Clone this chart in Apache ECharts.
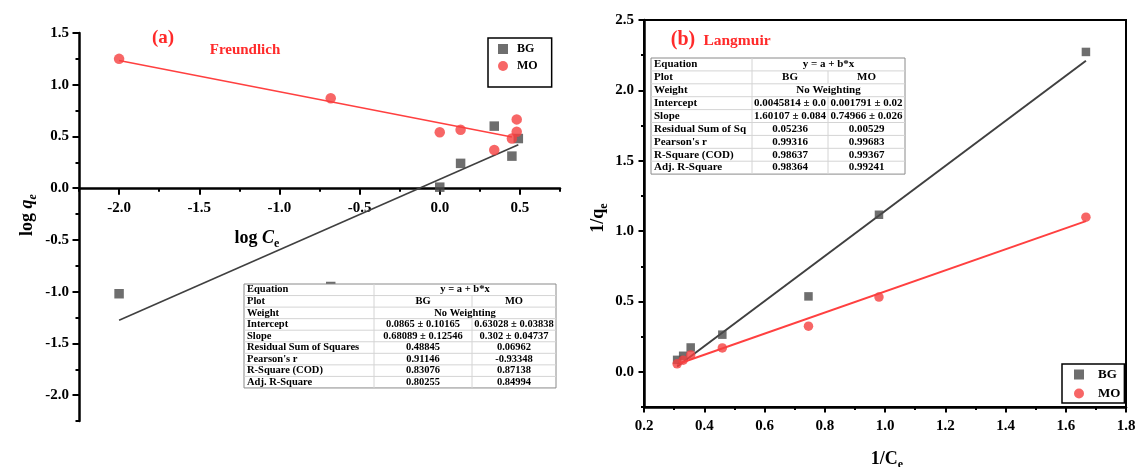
<!DOCTYPE html>
<html><head><meta charset="utf-8">
<script src="https://cdn.jsdelivr.net/npm/echarts@6/dist/echarts.min.js"></script>
<style>html,body{margin:0;padding:0;background:#fff}#c{width:1136px;height:467px}</style>
</head><body><div id="c"></div>
<script>
// ---------- (a) Freundlich data ----------
const freundBG = [[-2.0,-1.02],[-0.68,-0.95],[0.0,0.01],[0.13,0.24],[0.34,0.60],[0.45,0.31],[0.49,0.48]];
const freundMO = [[-2.0,1.25],[-0.68,0.87],[0.0,0.54],[0.13,0.565],[0.34,0.37],[0.45,0.48],[0.48,0.665],[0.48,0.545]];
const freundBGFit = [0.0865, 0.68089];      // intercept, slope
const freundMOFit = [0.63028, -0.302];
const freundBGRange = [-2.0, 0.49];
const freundMORange = [-2.0, 0.45];
const freundXTicks = [-2.0,-1.5,-1.0,-0.5,0.0,0.5];
const freundYTicks = [-2.0,-1.5,-1.0,-0.5,0.0,0.5,1.0,1.5];
const freundTableRows = [
  ['Equation','y = a + b*x',null],
  ['Plot','BG','MO'],
  ['Weight','No Weighting',null],
  ['Intercept','0.0865 ± 0.10165','0.63028 ± 0.03838'],
  ['Slope','0.68089 ± 0.12546','0.302 ± 0.04737'],
  ['Residual Sum of Squares','0.48845','0.06962'],
  ["Pearson's r",'0.91146','-0.93348'],
  ['R-Square (COD)','0.83076','0.87138'],
  ['Adj. R-Square','0.80255','0.84994']
];
// ---------- (b) Langmuir data ----------
const langX  = [0.31, 0.33, 0.355, 0.46, 0.746, 0.98, 1.667];
const langBG = [0.085, 0.114, 0.173, 0.264, 0.536, 1.116, 2.273];
const langMO = [0.057, 0.083, 0.12, 0.17, 0.324, 0.531, 1.099];
const langBGFit = [-0.45814, 1.60107];
const langMOFit = [-0.1791, 0.74966];
const langRange = [0.31, 1.667];
const langYTicks = [0.0,0.5,1.0,1.5,2.0,2.5];
const langTableRows = [
  ['Equation','y = a + b*x',null],
  ['Plot','BG','MO'],
  ['Weight','No Weighting',null],
  ['Intercept','0.0045814 ± 0.0','0.001791 ± 0.02'],
  ['Slope','1.60107 ± 0.084','0.74966 ± 0.026'],
  ['Residual Sum of Sq','0.05236','0.00529'],
  ["Pearson's r",'0.99316','0.99683'],
  ['R-Square (COD)','0.98637','0.99367'],
  ['Adj. R-Square','0.98364','0.99241']
];

const SERIF = '"Liberation Serif","Times New Roman",serif';
const RED = '#ff2a2a', PT_RED = '#f54040', GRAY = '#4a4a4a';
const half = v => Math.abs(v*2 - Math.round(v*2)) < 1e-6;
const fitLine = (p, r) => r.map(x => [x, p[0] + p[1]*x]);
const labelStyle = {color:'#000', fontFamily:SERIF, fontWeight:'bold', fontSize:15};
const lineStyleAxis = {color:'#000', width:2.5};

// left panel geometry: x axis sits at y = 0
const LEFT_H = 388, LEFT_YMIN = -2.25, LEFT_YMAX = 1.5;
const zeroOffset = -(0 - LEFT_YMIN) / (LEFT_YMAX - LEFT_YMIN) * LEFT_H;

function majorAxis(gridIndex, min, max, position, values, len, offset) {
  return {type:'value', gridIndex, min, max, position, offset: offset || 0,
    axisLine:{show:false, onZero:false}, axisLabel:{show:false}, splitLine:{show:false},
    axisTick:{show:true, customValues:values, length:len, lineStyle:{color:'#000', width:2}}};
}

function tableEls(x0, y0, colW, rowH, rows, fs) {
  const els = [];
  const W = colW[0]+colW[1]+colW[2], H = rowH*rows.length;
  const font = `bold ${fs}px ${SERIF}`;
  els.push({type:'rect', z:100, shape:{x:x0,y:y0,width:W,height:H}, style:{fill:'#fff', stroke:'#8a8a8a', lineWidth:1}});
  for (let i=1;i<rows.length;i++) {
    els.push({type:'line', z:101, shape:{x1:x0,y1:y0+i*rowH,x2:x0+W,y2:y0+i*rowH}, style:{stroke:'#d4d4d4', lineWidth:1}});
  }
  els.push({type:'line', z:101, shape:{x1:x0+colW[0],y1:y0,x2:x0+colW[0],y2:y0+H}, style:{stroke:'#d4d4d4', lineWidth:1}});
  rows.forEach((r,i) => {
    const yc = y0 + i*rowH + rowH/2;
    const yt = y0 + i*rowH;
    els.push({type:'text', z:102, x:x0+3, y:yc, style:{text:r[0], font, fill:'#000', align:'left', verticalAlign:'middle'}});
    if (r[2] === null) {
      els.push({type:'text', z:102, x:x0+colW[0]+(colW[1]+colW[2])/2, y:yc, style:{text:r[1], font, fill:'#000', align:'center', verticalAlign:'middle'}});
    } else {
      const xs = x0+colW[0]+colW[1];
      els.push({type:'line', z:101, shape:{x1:xs,y1:yt,x2:xs,y2:yt+rowH}, style:{stroke:'#d4d4d4', lineWidth:1}});
      els.push({type:'text', z:102, x:x0+colW[0]+colW[1]/2, y:yc, style:{text:r[1], font, fill:'#000', align:'center', verticalAlign:'middle'}});
      els.push({type:'text', z:102, x:xs+colW[2]/2, y:yc, style:{text:r[2], font, fill:'#000', align:'center', verticalAlign:'middle'}});
    }
  });
  return els;
}

const nameRich = {
  n:{fontSize:18, fontWeight:'bold', fontFamily:SERIF, fill:'#000', lineHeight:24},
  i:{fontSize:18, fontWeight:'bold', fontStyle:'italic', fontFamily:SERIF, fill:'#000', lineHeight:24},
  s:{fontSize:12, fontWeight:'bold', fontFamily:SERIF, fill:'#000', lineHeight:12, verticalAlign:'bottom'},
  si:{fontSize:12, fontWeight:'bold', fontStyle:'italic', fontFamily:SERIF, fill:'#000', lineHeight:12, verticalAlign:'bottom'}
};

const graphics = [
  {type:'text', z:110, x:163, y:38, style:{text:'(a)', font:`bold 19px ${SERIF}`, fill:RED, align:'center', verticalAlign:'middle'}},
  {type:'text', z:110, x:245, y:50, style:{text:'Freundlich', font:`bold 15px ${SERIF}`, fill:RED, align:'center', verticalAlign:'middle'}},
  {type:'text', z:110, x:683, y:40, style:{text:'(b)', font:`bold 20px ${SERIF}`, fill:RED, align:'center', verticalAlign:'middle'}},
  {type:'text', z:110, x:737, y:41, style:{text:'Langmuir', font:`bold 15.5px ${SERIF}`, fill:RED, align:'center', verticalAlign:'middle'}},
  {type:'text', z:110, x:257, y:238, style:{text:'{n|log }{i|C}{s|e}', rich:nameRich, align:'center', verticalAlign:'middle'}},
  {type:'text', z:110, x:27, y:215, rotation:Math.PI/2, style:{text:'{n|log }{i|q}{si|e}', rich:nameRich, align:'center', verticalAlign:'middle'}},
  {type:'text', z:110, x:887, y:459, style:{text:'{n|1/C}{s|e}', rich:nameRich, align:'center', verticalAlign:'middle'}},
  {type:'text', z:110, x:598, y:218, rotation:Math.PI/2, style:{text:'{n|1/q}{s|e}', rich:nameRich, align:'center', verticalAlign:'middle'}}
].concat(tableEls(244, 284, [130, 98, 84], 11.55, freundTableRows, 10.5))
 .concat(tableEls(651, 58, [101, 76, 77], 12.9, langTableRows, 11));

const legendBase = {orient:'vertical', itemWidth:10, itemHeight:10, borderColor:'#000', borderWidth:1.5, borderRadius:0,
  textStyle:{color:'#000', fontFamily:SERIF, fontWeight:'bold', fontSize:12, padding:[0,0,0,4]},
  data:[{name:'BG', icon:'rect'},{name:'MO', icon:'circle'}], selectedMode:false};

const option = {
  backgroundColor:'#fff',
  animation:false,
  grid:[
    {left:79, top:33, width:481, height:LEFT_H, containLabel:false, outerBoundsMode:'none'},
    {left:644, top:20, width:482, height:387, containLabel:false, outerBoundsMode:'none', show:true, borderColor:'#000', borderWidth:2, backgroundColor:'transparent'}
  ],
  xAxis:[
    {type:'value', gridIndex:0, min:-2.25, max:0.75, interval:0.25, position:'bottom', offset:zeroOffset,
      axisLine:{show:true, onZero:false, lineStyle:lineStyleAxis},
      axisTick:{show:true, length:3.5, lineStyle:{color:'#000', width:2}},
      axisLabel:Object.assign({margin:12, formatter:v => half(v) && v>=-2 && v<=0.5 ? v.toFixed(1) : ''}, labelStyle),
      splitLine:{show:false}},
    majorAxis(0, -2.25, 0.75, 'bottom', freundXTicks, 6.5, zeroOffset),
    {type:'value', gridIndex:1, min:0.2, max:1.8, interval:0.2,
      axisLine:{show:true, onZero:false, lineStyle:lineStyleAxis},
      axisTick:{show:true, length:5.5, lineStyle:{color:'#000', width:2}},
      minorTick:{show:true, splitNumber:2, length:3, lineStyle:{color:'#000', width:2}},
      axisLabel:Object.assign({margin:12, formatter:v => v.toFixed(1)}, labelStyle),
      splitLine:{show:false}}
  ],
  yAxis:[
    {type:'value', gridIndex:0, min:LEFT_YMIN, max:LEFT_YMAX, interval:0.25, position:'left',
      axisLine:{show:true, onZero:false, lineStyle:lineStyleAxis},
      axisTick:{show:true, length:3.5, lineStyle:{color:'#000', width:2}},
      axisLabel:Object.assign({margin:10, formatter:v => half(v) && v>=-2 ? v.toFixed(1) : ''}, labelStyle),
      splitLine:{show:false}},
    majorAxis(0, LEFT_YMIN, LEFT_YMAX, 'left', freundYTicks, 6.5),
    {type:'value', gridIndex:1, min:-0.25, max:2.5, interval:0.25, position:'left',
      axisLine:{show:true, onZero:false, lineStyle:lineStyleAxis},
      axisTick:{show:true, length:3, lineStyle:{color:'#000', width:2}},
      axisLabel:Object.assign({margin:10, formatter:v => half(v) && v>=0 ? v.toFixed(1) : ''}, labelStyle),
      splitLine:{show:false}},
    majorAxis(1, -0.25, 2.5, 'left', langYTicks, 5.5)
  ],
  legend:[
    Object.assign({}, legendBase, {left:488, top:38, itemGap:5, padding:[5,14,15,10]}),
    Object.assign({}, legendBase, {left:1062, top:364, itemGap:6, padding:[4,4,3,12], textStyle:Object.assign({}, legendBase.textStyle, {fontSize:13, padding:[0,0,0,9]})})
  ],
  series:[
    {name:'BG fit a', type:'line', xAxisIndex:0, yAxisIndex:0, data:fitLine(freundBGFit, freundBGRange), showSymbol:false, symbol:'none', lineStyle:{color:'#404040', width:1.6}, z:2, silent:true},
    {name:'MO fit a', type:'line', xAxisIndex:0, yAxisIndex:0, data:fitLine(freundMOFit, freundMORange), showSymbol:false, symbol:'none', lineStyle:{color:'#ff4040', width:1.6}, z:2, silent:true},
    {name:'BG', type:'scatter', xAxisIndex:0, yAxisIndex:0, data:freundBG, symbol:'rect', symbolSize:9.5, itemStyle:{color:GRAY}, z:3},
    {name:'MO', type:'scatter', xAxisIndex:0, yAxisIndex:0, data:freundMO, symbol:'circle', symbolSize:10.5, itemStyle:{color:PT_RED}, z:4},
    {name:'BG fit b', type:'line', xAxisIndex:2, yAxisIndex:2, data:fitLine(langBGFit, langRange), showSymbol:false, symbol:'none', lineStyle:{color:'#404040', width:2}, z:2, silent:true},
    {name:'MO fit b', type:'line', xAxisIndex:2, yAxisIndex:2, data:fitLine(langMOFit, langRange), showSymbol:false, symbol:'none', lineStyle:{color:'#ff4040', width:2}, z:2, silent:true},
    {name:'BG', type:'scatter', xAxisIndex:2, yAxisIndex:2, data:langX.map((x,i)=>[x, langBG[i]]), symbol:'rect', symbolSize:8.5, itemStyle:{color:GRAY}, z:3},
    {name:'MO', type:'scatter', xAxisIndex:2, yAxisIndex:2, data:langX.map((x,i)=>[x, langMO[i]]), symbol:'circle', symbolSize:9.5, itemStyle:{color:PT_RED}, z:4}
  ],
  graphic:{elements:graphics}
};
const chart = echarts.init(document.getElementById('c'));
chart.setOption(option);
</script></body></html>
